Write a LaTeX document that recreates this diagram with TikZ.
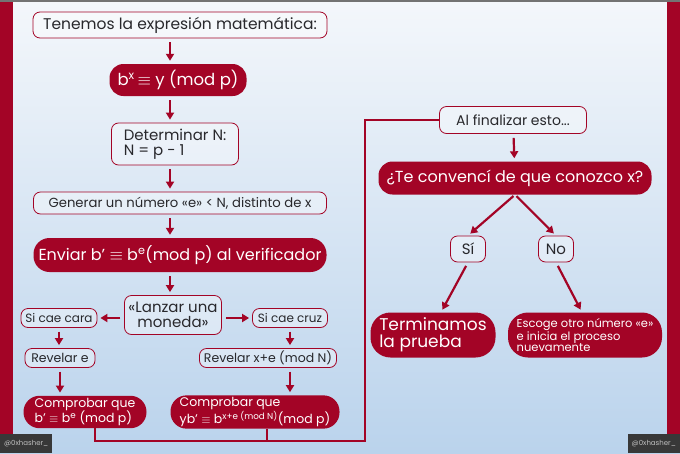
\documentclass[tikz,border=0pt]{standalone}
\usepackage{fontspec}
\setmainfont{Poppins}
\usetikzlibrary{arrows.meta}
\definecolor{vino}{RGB}{163,4,38}
\definecolor{tinta}{RGB}{40,40,44}
\definecolor{cielo}{RGB}{186,211,236}
\definecolor{nube}{RGB}{244,247,251}
\newcommand{\fs}[1]{\fontsize{#1}{#1}\selectfont}
\begin{document}
\begin{tikzpicture}[x=1pt, y=-1pt,
      >={Triangle[length=7pt,width=8pt]},
      caja/.style={draw=vino, line width=0.8pt, rounded corners=7pt, fill=white, fill opacity=0.35, text opacity=1, text=tinta, align=left, inner sep=2pt},
      pill/.style={fill=vino, rounded corners=14pt, text=white, align=left, inner sep=2pt},
      flecha/.style={->, draw=vino, fill=vino, line width=2.2pt, shorten <=4pt, shorten >=3pt},
      linea/.style={draw=vino, line width=2.2pt},
      marca/.style={fill=black!78, text=black!25, minimum width=52, minimum height=19, inner sep=1pt, font=\fs{7}}]
    \useasboundingbox (0,0) rectangle (680,453);
    \shade[top color=nube, bottom color=cielo] (0,0) rectangle (680,453);
    \fill[vino] (0,0) rectangle (13,453);
    \fill[vino] (667,0) rectangle (680,453);
    \fill[black!55] (0,0) rectangle (680,1.5);

    % columna izquierda
    \coordinate (col) at (170,0);
    \node[caja, minimum width=294, minimum height=26, font=\fs{15.5}] (a) at (180,25) {Tenemos la expresión matemática:};
    \node[pill, minimum width=137, minimum height=32, font=\fs{16.5}] (b) at (178,80) {b\textsuperscript{x}$\,\equiv$ y (mod p)};
    \node[caja, minimum width=127, minimum height=42, font=\fs{15}] (c) at (175,144) {Determinar N:\\N = p - 1};
    \node[caja, minimum width=293, minimum height=22, font=\fs{13.2}] (d) at (180,203) {Generar un número «e» < N, distinto de x};
    \node[pill, minimum width=293, minimum height=34, font=\fs{16}, rounded corners=16pt] (e) at (180,255) {Enviar b’ $\equiv$ b\textsuperscript{e}(mod p)\ al verificador};
    \node[caja, minimum width=97, minimum height=39, align=center, font=\fs{15}] (mon) at (173,315) {«Lanzar una\\moneda»};
    \node[caja, minimum width=76, minimum height=19, font=\fs{12}] (cara) at (59,318) {Si cae cara};
    \node[caja, minimum width=75, minimum height=19, font=\fs{12}] (cruz) at (290,318) {Si cae cruz};
    \node[caja, minimum width=70, minimum height=19, font=\fs{12.5}] (reve) at (60,358) {Revelar e};
    \node[caja, minimum width=137, minimum height=19, font=\fs{12.5}] (revx) at (268,358) {Revelar x+e (mod N)};
    \node[pill, minimum width=123, minimum height=32, font=\fontsize{12.5}{14}\selectfont, rounded corners=16pt] (comp1) at (85,412) {Comprobar que\\b’ $\equiv$ b\textsuperscript{e} (mod p)};
    \node[pill, minimum width=169, minimum height=32, font=\fontsize{12.5}{14}\selectfont, rounded corners=16pt] (comp2) at (255,412) {Comprobar que\\yb’ $\equiv$ b\textsuperscript{x+e (mod N)}(mod p)};

    \draw[flecha] (a.south -| col) -- (b.north -| col);
    \draw[flecha] (b.south -| col) -- (c.north -| col);
    \draw[flecha] (c.south -| col) -- (d.north -| col);
    \draw[flecha] (d.south -| col) -- (e.north -| col);
    \draw[flecha] (e.south -| col) -- (mon.north -| col);
    \draw[flecha] (mon.west |- cara.east) -- (cara.east);
    \draw[flecha] (mon.east |- cruz.west) -- (cruz.west);
    \draw[flecha] (cara.south) -- (cara.south |- reve.north);
    \draw[flecha] (reve.south) -- (reve.south |- comp1.north);
    \draw[flecha] (cruz.south) -- (cruz.south |- revx.north);
    \draw[flecha] (revx.south -| cruz.south) -- (cruz.south |- comp2.north);

    % columna derecha
    \node[caja, minimum width=147, minimum height=27, font=\fs{14}] (fin) at (513,120) {Al finalizar esto...};
    \node[pill, minimum width=273, minimum height=33, font=\fs{16}] (conv) at (515,178) {¿Te convencí de que conozco x?};
    \node[caja, minimum width=35, minimum height=26, font=\fs{15}] (si) at (468,249) {Sí};
    \node[caja, minimum width=35, minimum height=26, font=\fs{15}] (no) at (556,249) {No};
    \node[pill, minimum width=125, minimum height=45, font=\fs{17}, rounded corners=20pt] (term) at (433,335) {Terminamos\\la prueba};
    \node[pill, minimum width=154, minimum height=45, font=\fs{11.5}, rounded corners=20pt] (otro) at (585,335) {Escoge otro número «e»\\e inicia el proceso\\nuevamente};

    \coordinate (esq) at (365,441);
    \draw[linea] ([xshift=10pt]comp1.south) |- (esq) |- (fin.west);
    \draw[linea] ([xshift=12pt]comp2.south) -- ([xshift=12pt]comp2.south |- esq);
    \draw[flecha] (fin) -- (conv);
    \draw[flecha, shorten <=2pt] (conv.south) -- (si.north);
    \draw[flecha, shorten <=2pt] (conv.south) -- (no.north);
    \draw[flecha] (si.south) -- ([xshift=8pt]term.north);
    \draw[flecha] (no.south) -- ([xshift=-3pt]otro.north);

    \node[marca, anchor=south west] (m1) at (0,453) {@0xhasher\_};
    \node[marca, anchor=south east] (m2) at (680,453) {@0xhasher\_};
  \end{tikzpicture}
\end{document}
